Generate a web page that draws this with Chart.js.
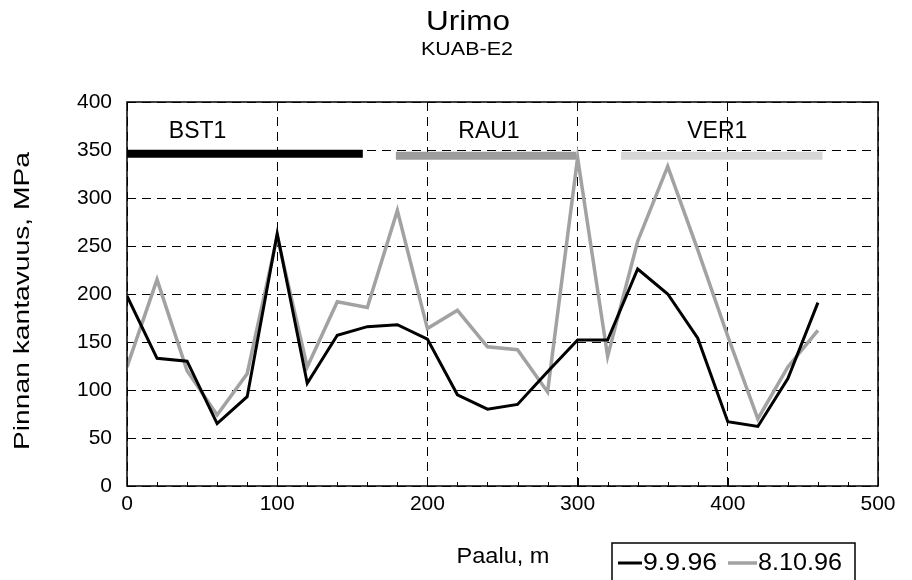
<!DOCTYPE html>
<html>
<head>
<meta charset="utf-8">
<script src="https://cdn.jsdelivr.net/npm/chart.js@4/dist/chart.umd.min.js"></script>
<style>
  html, body { margin: 0; padding: 0; background: #fff; }
  #wrap { width: 912px; height: 580px; }
</style>
</head>
<body>
<div id="wrap"><canvas id="c" width="912" height="580"></canvas></div>
<script>
// Paalu (m) and measured surface bearing capacity (MPa)
const paalu = [0, 20, 40, 60, 80, 100, 120, 140, 160, 180, 200, 220,
               240, 260, 280, 300, 320, 340, 360, 380, 400, 420, 440, 460];
const mittaus_9_9_96 = [198, 133, 130, 65, 93, 263, 107, 157, 166, 168, 153, 95,
                        80, 85, 119, 152, 152, 226, 200, 154, 67, 62, 112, 191];
const mittaus_8_10_96 = [124, 215, 120, 74, 117, 260, 124, 192, 186, 287, 164, 183,
                         145, 142, 98, 342, 135, 255, 333, 246, 156, 70, 124, 162];
const sarjat = ['9.9.96', '8.10.96'];

// Pavement sections along the road
const jaksot = ['BST1', 'RAU1', 'VER1'];
const jaksoAlku = [0, 179, 329];
const jaksoLoppu = [157, 299, 463];
const jaksoTaso = [346, 344, 344];
const jaksoTekstiX = [47, 241, 393];
const jaksoTekstiY = 369;

// Axis ticks
const xTicks = [0, 100, 200, 300, 400, 500];
const yTicks = [0, 50, 100, 150, 200, 250, 300, 350, 400];
const xMinorTicks = [20, 40, 60, 80, 120, 140, 160, 180, 220, 240, 260, 280,
                     320, 340, 360, 380, 420, 440, 460, 480];

const FONT = '"Liberation Sans", Arial, Helvetica, sans-serif';
const sarjaVarit = ['#000000', '#a2a2a2'];
const sarjaLeveys = [3, 3.5];
const jaksoVarit = ['#000000', '#9c9c9c', '#d6d6d6'];

function teksti(ctx, str, x, y, size, opts) {
  opts = opts || {};
  ctx.save();
  ctx.font = size + 'px ' + FONT;
  ctx.fillStyle = '#000';
  ctx.textAlign = opts.align || 'center';
  ctx.textBaseline = 'middle';
  ctx.translate(x, y);
  if (opts.rot) ctx.rotate(opts.rot);
  if (opts.width) {
    const w = ctx.measureText(str).width;
    ctx.scale(opts.width / w, 1);
  }
  ctx.fillText(str, 0, 0);
  ctx.restore();
}

const koristeet = {
  id: 'koristeet',
  afterDraw(chart) {
    const ctx = chart.ctx;
    const a = chart.chartArea;
    const xs = chart.scales.x, ys = chart.scales.y;

    // plot frame
    ctx.save();
    ctx.strokeStyle = '#000';
    ctx.lineWidth = 1.5;
    ctx.strokeRect(a.left, a.top, a.right - a.left, a.bottom - a.top);

    // inner tick marks
    ctx.lineWidth = 1;
    ctx.beginPath();
    xMinorTicks.forEach(v => {
      const px = Math.round(xs.getPixelForValue(v)) + 0.5;
      ctx.moveTo(px, a.bottom); ctx.lineTo(px, a.bottom - 4);
    });
    xTicks.forEach(v => {
      const px = Math.round(xs.getPixelForValue(v)) + 0.5;
      ctx.moveTo(px, a.bottom); ctx.lineTo(px, a.bottom - 8);
    });
    yTicks.forEach(v => {
      const py = Math.round(ys.getPixelForValue(v)) + 0.5;
      ctx.moveTo(a.left, py); ctx.lineTo(a.left + 5, py);
    });
    ctx.stroke();
    ctx.restore();

    // section names
    jaksot.forEach((n, i) => {
      teksti(ctx, n, xs.getPixelForValue(jaksoTekstiX[i]), ys.getPixelForValue(jaksoTekstiY), 23);
    });

    // titles
    teksti(ctx, 'Urimo', 468, 23, 27, { width: 84 });
    teksti(ctx, 'KUAB-E2', 467, 50, 19, { width: 92 });
    teksti(ctx, 'Paalu, m', 503, 557, 22, { width: 93 });
    teksti(ctx, 'Pinnan kantavuus, MPa', 23, 301, 22, { rot: -Math.PI / 2, width: 298 });

    // legend box
    ctx.save();
    ctx.strokeStyle = '#000';
    ctx.lineWidth = 1.5;
    ctx.strokeRect(612, 543, 243, 45);
    ctx.lineCap = 'butt';
    ctx.lineWidth = sarjaLeveys[0];
    ctx.strokeStyle = sarjaVarit[0];
    ctx.beginPath(); ctx.moveTo(618, 563); ctx.lineTo(642, 563); ctx.stroke();
    ctx.lineWidth = sarjaLeveys[1];
    ctx.strokeStyle = sarjaVarit[1];
    ctx.beginPath(); ctx.moveTo(728, 563); ctx.lineTo(757, 563); ctx.stroke();
    ctx.restore();
    teksti(ctx, sarjat[0], 643, 564, 23, { align: 'left', width: 74 });
    teksti(ctx, sarjat[1], 758, 564, 23, { align: 'left', width: 84 });
  }
};

const datasets = [
  {
    label: sarjat[0],
    data: paalu.map((x, i) => ({ x: x, y: mittaus_9_9_96[i] })),
    borderColor: sarjaVarit[0], borderWidth: sarjaLeveys[0],
    pointRadius: 0, tension: 0, borderJoinStyle: 'miter'
  },
  {
    label: sarjat[1],
    data: paalu.map((x, i) => ({ x: x, y: mittaus_8_10_96[i] })),
    borderColor: sarjaVarit[1], borderWidth: sarjaLeveys[1],
    pointRadius: 0, tension: 0, borderJoinStyle: 'miter'
  }
].concat(jaksot.map((n, i) => ({
  label: n,
  data: [{ x: jaksoAlku[i], y: jaksoTaso[i] }, { x: jaksoLoppu[i], y: jaksoTaso[i] }],
  borderColor: jaksoVarit[i], borderWidth: 8,
  pointRadius: 0, borderCapStyle: 'butt'
})));

new Chart(document.getElementById('c'), {
  type: 'line',
  data: { datasets: datasets },
  options: {
    responsive: false,
    animation: false,
    devicePixelRatio: 1,
    layout: { padding: { top: 102, right: 34, left: 0, bottom: 0 } },
    plugins: { legend: { display: false }, tooltip: { enabled: false }, title: { display: false } },
    scales: {
      x: {
        type: 'linear', min: 0, max: 500,
        afterFit(s) { s.height = 94; },
        afterBuildTicks(s) { s.ticks = xTicks.map(v => ({ value: v })); },
        grid: { color: '#000', lineWidth: 1, drawTicks: false },
        border: { display: false, dash: [9, 6] },
        ticks: { color: '#000', font: { size: 21, family: FONT }, padding: 6, maxRotation: 0 }
      },
      y: {
        type: 'linear', min: 0, max: 400,
        afterFit(s) { s.width = 127; },
        afterBuildTicks(s) { s.ticks = yTicks.map(v => ({ value: v })); },
        grid: { color: '#000', lineWidth: 1, drawTicks: false },
        border: { display: false, dash: [9, 6] },
        ticks: { color: '#000', font: { size: 21, family: FONT }, padding: 15 }
      }
    }
  },
  plugins: [koristeet]
});
</script>
</body>
</html>
